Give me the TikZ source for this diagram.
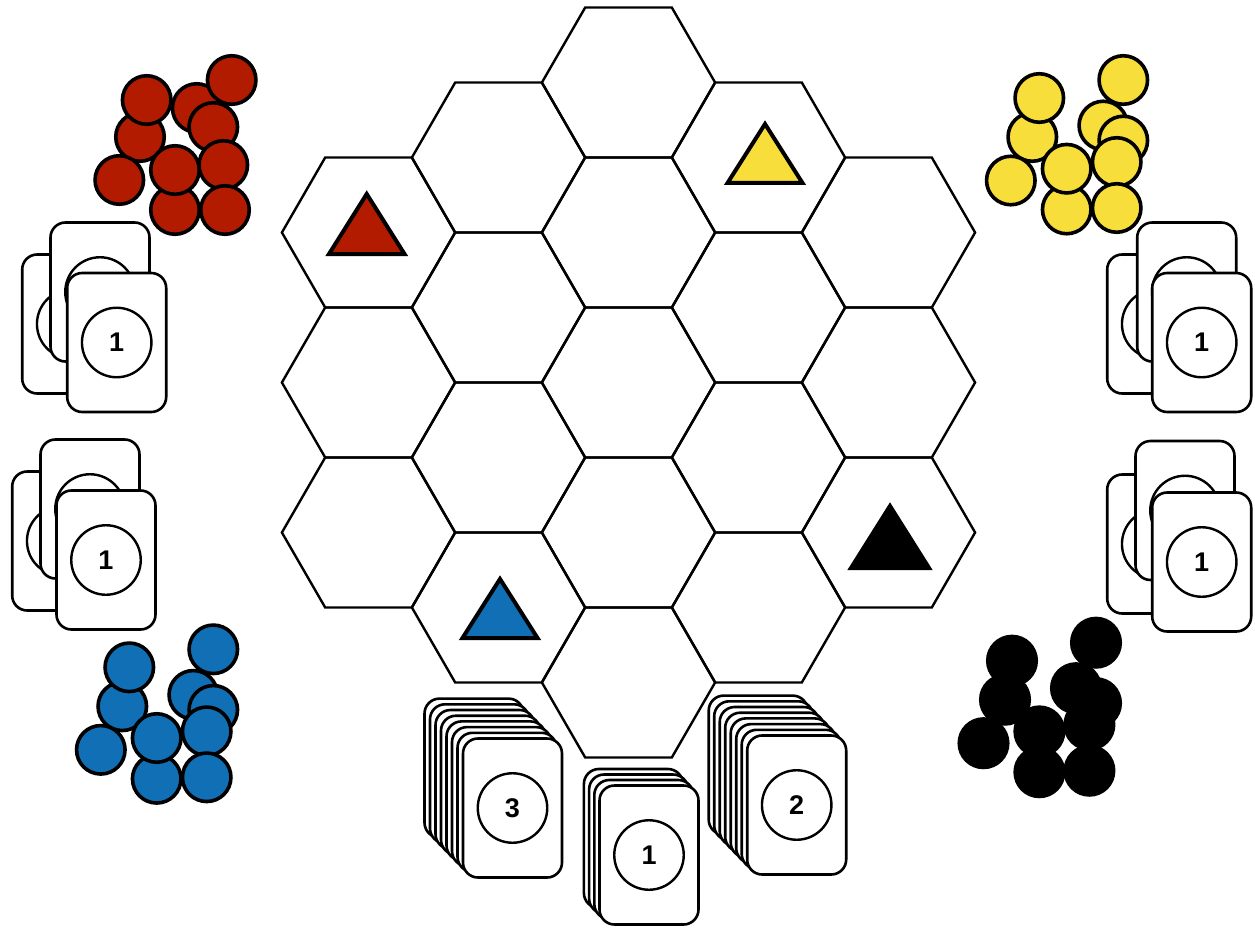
\documentclass[tikz,border=0pt]{standalone}
\usepackage{fontspec}
\setmainfont{Liberation Sans}
\definecolor{tokred}{HTML}{B21B00}
\definecolor{tokyellow}{HTML}{F7DE3A}
\definecolor{tokblue}{HTML}{1170B5}
\begin{document}
\begin{tikzpicture}[x=1pt,y=-1pt,
  hexline/.style={draw=black, line width=2.4pt, line join=miter},
  tok/.style={circle, draw=black, line width=3.6pt, minimum size=48.5pt, inner sep=0pt, outer sep=0pt},
  card/.style={draw=black, fill=white, line width=2.6pt, rounded corners=15pt, minimum width=99pt, minimum height=139pt, inner sep=0pt, outer sep=0pt},
  numc/.style={circle, draw=black, fill=white, line width=2.4pt, minimum size=69.5pt, inner sep=0pt, font=\bfseries\fontsize{27}{27}\selectfont},
  tri/.style={draw=black, line width=4pt, line join=miter}
]
\useasboundingbox (0,0) rectangle (1255,928);
\fill[white] (0,0) rectangle (1255,928);

% hex board
\foreach \cx/\cy in {368.5/232.5, 368.5/382.5, 368.5/532.5,
                     498.5/157.5, 498.5/307.5, 498.5/457.5, 498.5/607.5,
                     628.5/82.5, 628.5/232.5, 628.5/382.5, 628.5/532.5, 628.5/682.5,
                     758.5/157.5, 758.5/307.5, 758.5/457.5, 758.5/607.5,
                     888.5/232.5, 888.5/382.5, 888.5/532.5}
  \draw[hexline] (\cx,\cy) +(0:86.6) -- +(60:86.6) -- +(120:86.6) -- +(180:86.6) -- +(240:86.6) -- +(300:86.6) -- cycle;

% start triangles
\draw[tri, fill=tokred] (366.7,194) -- (329,254) -- (404.5,254) -- cycle;
\draw[tri, fill=tokyellow] (765,124) -- (727.5,183) -- (802.5,183) -- cycle;
\draw[tri, fill=black] (890,506) -- (851,568) -- (929,568) -- cycle;
\draw[tri, fill=tokblue] (500,579) -- (462.5,638) -- (537.5,638) -- cycle;

% red tokens
\foreach \i/\x/\y in {3/196.7/108, 5/140/137, 2/146.7/100, 4/213.3/127, 1/231.7/80,
                      6/119.3/180, 9/175/210, 7/175/170, 8/223.3/165, 10/225/210}
  \node[tok, fill=tokred] (red\i) at (\x,\y) {};

% yellow, blue, black tokens (same pattern)
\foreach \col/\ox/\oy in {tokyellow/1123.3/80, tokblue/213.3/649.3, black/1096/642.7}{
  \foreach \i/\dx/\dy in {3/-20/45.5, 5/-91/57, 2/-84/18, 4/0/60.5, 1/0/0,
                          6/-112.5/100.5, 9/-56.6/129.5, 7/-56.6/88.7, 8/-6.6/82, 10/-6.6/128}
    \node[tok, fill=\col] (\col\i) at ([shift={(\dx,\dy)}]\ox,\oy) {};
}

% side card stacks
\foreach \n/\ax/\ay/\bx/\by/\cx/\cy in {lt/71.7/324/100/292/116.7/342.5,
                                        lb/61.7/541/90/509/106/560,
                                        rt/1156.7/324/1186.7/292/1201.7/342.5,
                                        rb/1156.7/544/1185/510.5/1201.7/562}{
  \node[card] (\n a) at (\ax,\ay) {};
  \node[numc] (\n an) at (\n a) {};
  \node[card] (\n b) at (\bx,\by) {};
  \node[numc] (\n bn) at (\n b) {};
  \node[card] (\n c) at (\cx,\cy) {};
  \node[numc] (\n cn) at (\n c) {1};
}

% bottom decks
\foreach \k in {7,6,...,1}
  \node[card] (d3back\k) at ([shift={(-5.5*\k,-5.7*\k)}]512.5,808) {};
\node[card] (d3) at (512.5,808) {};
\node[numc] (d3n) at (d3) {3};

\foreach \k in {3,2,1}
  \node[card] (d1back\k) at ([shift={(-5.2*\k,-5.5*\k)}]649,855) {};
\node[card] (d1) at (649,855) {};
\node[numc] (d1n) at (d1) {1};

\foreach \k in {7,6,...,1}
  \node[card] (d2back\k) at ([shift={(-5.5*\k,-5.7*\k)}]796.7,805) {};
\node[card] (d2) at (796.7,805) {};
\node[numc] (d2n) at (d2) {2};
\end{tikzpicture}
\end{document}
